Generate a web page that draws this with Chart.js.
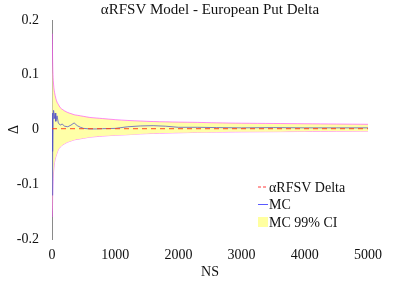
<!DOCTYPE html>
<html>
<head>
<meta charset="utf-8">
<script src="https://cdn.jsdelivr.net/npm/chart.js@4.4.1/dist/chart.umd.min.js"></script>
<style>
  html, body { margin: 0; padding: 0; background: #fff; }
  #wrap { width: 407px; height: 281px; }
</style>
</head>
<body>
<div id="wrap"><canvas id="deltaChart" width="407" height="281"></canvas></div>
<script>
// values
var ns = [4, 8, 12, 16, 20, 30, 40, 50, 60, 80, 100, 130, 160, 200, 250, 300, 350, 400, 450, 500,
          600, 700, 800, 1000, 1200, 1400, 1600, 1800, 2000, 2300, 2600, 3000, 3500, 4000, 4500, 5000];
var mcDelta = [-0.12, 0.03, -0.04, 0.02, 0.025, 0.035, 0.02, 0.03, 0.015, 0.025, 0.012, 0.008, 0.01, 0.006, 0.005, 0.008, 0.012, 0.007, 0.004, 0.002,
               0.001, 0.001, 0.0015, 0.002, 0.005, 0.0065, 0.007, 0.006, 0.004, 0.004, 0.0035, 0.003, 0.0035, 0.003, 0.003, 0.003];
var ciUpper = [0.175, 0.14, 0.115, 0.1, 0.09, 0.076, 0.068, 0.062, 0.057, 0.05, 0.046, 0.04, 0.037, 0.034, 0.031, 0.029, 0.027, 0.026, 0.025, 0.024,
               0.022, 0.021, 0.02, 0.018, 0.0165, 0.0155, 0.0145, 0.014, 0.0135, 0.013, 0.0122, 0.0115, 0.011, 0.0105, 0.01, 0.0095];
var ciLower = [-0.16, -0.14, -0.11, -0.095, -0.085, -0.07, -0.06, -0.054, -0.05, -0.043, -0.037, -0.032, -0.029, -0.026, -0.023, -0.021, -0.019, -0.018, -0.017, -0.016,
               -0.014, -0.013, -0.012, -0.0105, -0.0095, -0.008, -0.0072, -0.0065, -0.006, -0.0053, -0.0048, -0.0043, -0.004, -0.0036, -0.0033, -0.003];
var modelNs = [0, 5000];
var modelDelta = [0.0015, 0.0015];
var xTicks = [0, 1000, 2000, 3000, 4000, 5000];
var yTicks = [-0.2, -0.1, 0, 0.1, 0.2];

function pts(xs, ys) {
    return xs.map(function (x, i) { return { x: x, y: ys[i] }; });
}

var serif = "'Liberation Serif', 'DejaVu Serif', serif";
var titleText = "\u03b1RFSV Model - European Put Delta";

var legendItems = [
    { text: "\u03b1RFSV Delta", kind: "dash", color: "#ff3b3b" },
    { text: "MC", kind: "line", color: "#5a5aff" },
    { text: "MC 99% CI", kind: "box", color: "#ffffa0" }
];

// title centred over the plot box + legend inside the axes
var extras = {
    id: "extras",
    afterDatasetsDraw: function (chart) {
        var c = chart.ctx;
        var a = chart.chartArea;
        c.save();
        c.font = "15px " + serif;
        c.textAlign = "center";
        c.textBaseline = "middle";
        c.fillStyle = "#111";
        c.fillText(titleText, (a.left + a.right) / 2, 10);

        var x0 = a.right - 110, y0 = a.bottom - 52;
        c.font = "14px " + serif;
        c.textAlign = "left";
        legendItems.forEach(function (it, i) {
            var y = y0 + i * 17.5;
            if (it.kind === "box") {
                c.fillStyle = it.color;
                c.fillRect(x0, y - 5, 10, 10);
            } else {
                c.strokeStyle = it.color;
                c.lineWidth = 1;
                c.setLineDash(it.kind === "dash" ? [3, 2] : []);
                c.beginPath();
                c.moveTo(x0, y);
                c.lineTo(x0 + 10, y);
                c.stroke();
                c.setLineDash([]);
            }
            c.fillStyle = "#111";
            c.fillText(it.text, x0 + 11, y + 1);
        });
        c.restore();
    }
};

var ctx = document.getElementById("deltaChart").getContext("2d");
var myChart = new Chart(ctx, {
    type: "line",
    data: {
        datasets: [
            {
                label: "MC 99% CI upper",
                data: pts(ns, ciUpper),
                borderColor: "rgba(255, 60, 255, 0.6)",
                borderWidth: 1,
                backgroundColor: "#ffffa8",
                fill: "+1",
                pointRadius: 0,
                tension: 0.3,
                order: 3
            },
            {
                label: "MC 99% CI lower",
                data: pts(ns, ciLower),
                borderColor: "rgba(255, 60, 255, 0.6)",
                borderWidth: 1,
                fill: false,
                pointRadius: 0,
                tension: 0.3,
                order: 3
            },
            {
                label: "MC",
                data: pts(ns, mcDelta),
                borderColor: "rgba(80, 80, 200, 0.75)",
                borderWidth: 1,
                fill: false,
                pointRadius: 0,
                order: 2
            },
            {
                label: "\u03b1RFSV Delta",
                data: pts(modelNs, modelDelta),
                borderColor: "rgba(255, 60, 20, 0.75)",
                borderWidth: 1.3,
                borderDash: [5, 4],
                fill: false,
                pointRadius: 0,
                order: 1
            }
        ]
    },
    options: {
        responsive: false,
        animation: false,
        layout: { padding: { left: 6, right: 39, top: 20, bottom: 0 } },
        plugins: {
            legend: { display: false },
            tooltip: { enabled: false },
            title: { display: false }
        },
        scales: {
            x: {
                type: "linear",
                min: 0,
                max: 5000,
                grid: { display: false },
                border: { display: false },
                afterBuildTicks: function (s) { s.ticks = xTicks.map(function (v) { return { value: v }; }); },
                afterFit: function (s) { s.height = 42; },
                ticks: {
                    color: "#111",
                    padding: 0,
                    maxRotation: 0,
                    font: { family: serif, size: 14 },
                    callback: function (v) { return String(v); }
                },
                title: {
                    display: true,
                    text: "NS",
                    color: "#111",
                    padding: { top: 2, bottom: 0 },
                    font: { family: serif, size: 14 }
                }
            },
            y: {
                min: -0.2,
                max: 0.2,
                grid: { display: false },
                border: { display: true, color: "#8a8a8a", width: 1 },
                afterBuildTicks: function (s) { s.ticks = yTicks.map(function (v) { return { value: v }; }); },
                afterFit: function (s) { s.width = 46; },
                ticks: {
                    color: "#111",
                    padding: 5,
                    font: { family: serif, size: 14 },
                    callback: function (v) { return String(v); }
                },
                title: {
                    display: true,
                    text: "\u0394",
                    color: "#111",
                    padding: { top: 0, bottom: 0 },
                    font: { family: serif, size: 14 }
                }
            }
        }
    },
    plugins: [extras]
});
</script>
</body>
</html>
